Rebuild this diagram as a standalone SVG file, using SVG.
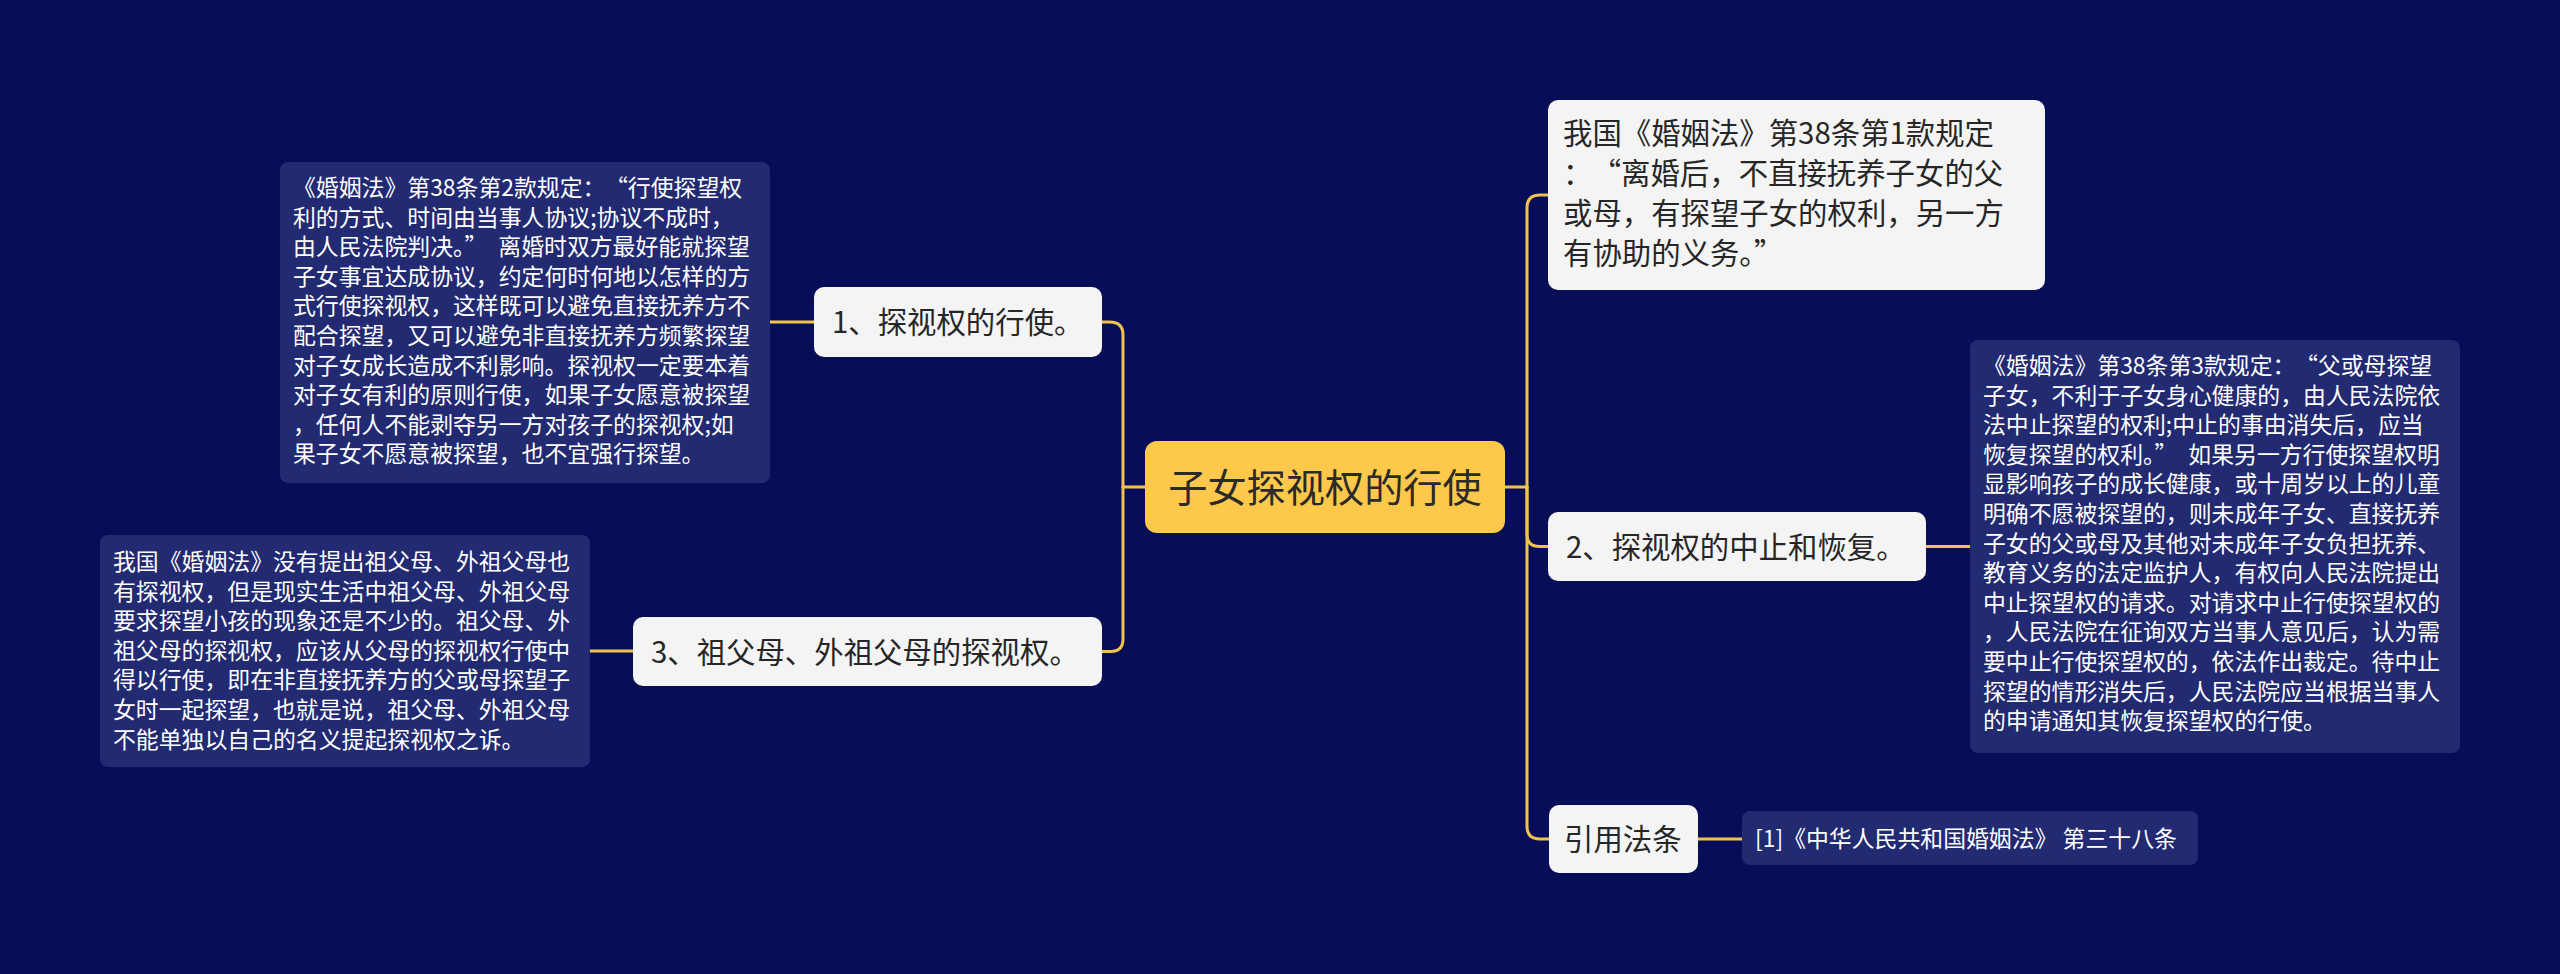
<svg xmlns="http://www.w3.org/2000/svg" width="2560" height="974" viewBox="0 0 2560 974">
<style>
.bg{fill:#070E57}
.root rect{fill:#FEC84A}
.root text{fill:#2A2A2A;font-size:39.2px;font-family:"Noto Sans CJK SC","Noto Sans",sans-serif}
.topic rect{fill:#F4F4F4}
.topic text{fill:#262626;font-size:29.4px;font-family:"Noto Sans CJK SC","Noto Sans",sans-serif}
.note rect{fill:#222A72}
.note text{fill:#FFFFFF;font-size:22.86px;font-family:"Noto Sans CJK SC","Noto Sans",sans-serif}
.links path{fill:none;stroke:#F3C24C;stroke-width:3;stroke-linecap:round}
</style>
<rect class="bg" x="0" y="0" width="2560" height="974"/>
<g class="links" id="connectors">
<path d="M1145,487 H1123"/>
<path d="M1123,487 V335 Q1123,322 1110,322 H1102"/>
<path d="M1123,487 V639 Q1123,651.5 1110.5,651.5 H1102"/>
<path d="M814,322 H770"/>
<path d="M633,651 H589"/>
<path d="M1505,487 H1527"/>
<path d="M1527,487 V208 Q1527,195 1540,195 H1548"/>
<path d="M1527,487 V534 Q1527,546.5 1539.5,546.5 H1548"/>
<path d="M1527,487 V826 Q1527,839 1540,839 H1549"/>
<path d="M1926,546.5 H1970"/>
<path d="M1698,839 H1742"/>
</g>
<g class="root" id="root">
<rect x="1145" y="441" width="360" height="92" rx="12"/>
<text x="1325" y="502" text-anchor="middle">子女探视权的行使</text>
</g>
<g class="topic" id="n1">
<rect x="814" y="287" width="288" height="70" rx="10"/>
<text x="832" y="333">1、探视权的行使。</text>
</g>
<g class="topic" id="n3">
<rect x="633" y="617" width="469" height="69" rx="10"/>
<text x="651" y="662.5">3、祖父母、外祖父母的探视权。</text>
</g>
<g class="topic" id="n0">
<rect x="1548" y="100" width="497" height="190" rx="10"/>
<text x="1563" y="144">我国《婚姻法》第38条第1款规定</text>
<text x="1563" y="184">：<tspan dx="14">“</tspan>离婚后，不直接抚养子女的父</text>
<text x="1563" y="224">或母，有探望子女的权利，另一方</text>
<text x="1563" y="264">有协助的义务。”</text>
</g>
<g class="topic" id="n2">
<rect x="1548" y="512" width="378" height="69" rx="10"/>
<text x="1566" y="557.5">2、探视权的中止和恢复。</text>
</g>
<g class="topic" id="n4">
<rect x="1549" y="805" width="149" height="68" rx="10"/>
<text x="1564" y="850">引用法条</text>
</g>
<g class="note" id="d1">
<rect x="280" y="162" width="490" height="321" rx="8"/>
<text x="293" y="196">《婚姻法》第38条第2款规定：<tspan dx="11">“</tspan>行使探望权</text>
<text x="293" y="225.6">利的方式、时间由当事人协议;协议不成时，</text>
<text x="293" y="255.2">由人民法院判决。”<tspan dx="11">离</tspan>婚时双方最好能就探望</text>
<text x="293" y="284.8">子女事宜达成协议，约定何时何地以怎样的方</text>
<text x="293" y="314.4">式行使探视权，这样既可以避免直接抚养方不</text>
<text x="293" y="344">配合探望，又可以避免非直接抚养方频繁探望</text>
<text x="293" y="373.6">对子女成长造成不利影响。探视权一定要本着</text>
<text x="293" y="403.2">对子女有利的原则行使，如果子女愿意被探望</text>
<text x="293" y="432.8">，任何人不能剥夺另一方对孩子的探视权;如</text>
<text x="293" y="462.4">果子女不愿意被探望，也不宜强行探望。</text>
</g>
<g class="note" id="d3">
<rect x="100" y="535" width="490" height="232" rx="8"/>
<text x="113" y="570">我国《婚姻法》没有提出祖父母、外祖父母也</text>
<text x="113" y="599.6">有探视权，但是现实生活中祖父母、外祖父母</text>
<text x="113" y="629.2">要求探望小孩的现象还是不少的。祖父母、外</text>
<text x="113" y="658.8">祖父母的探视权，应该从父母的探视权行使中</text>
<text x="113" y="688.4">得以行使，即在非直接抚养方的父或母探望子</text>
<text x="113" y="718">女时一起探望，也就是说，祖父母、外祖父母</text>
<text x="113" y="747.6">不能单独以自己的名义提起探视权之诉。</text>
</g>
<g class="note" id="d2">
<rect x="1970" y="340" width="490" height="413" rx="8"/>
<text x="1983" y="374">《婚姻法》第38条第3款规定：<tspan dx="11">“</tspan>父或母探望</text>
<text x="1983" y="403.6">子女，不利于子女身心健康的，由人民法院依</text>
<text x="1983" y="433.2">法中止探望的权利;中止的事由消失后，应当</text>
<text x="1983" y="462.8">恢复探望的权利。”<tspan dx="11">如</tspan>果另一方行使探望权明</text>
<text x="1983" y="492.4">显影响孩子的成长健康，或十周岁以上的儿童</text>
<text x="1983" y="522">明确不愿被探望的，则未成年子女、直接抚养</text>
<text x="1983" y="551.6">子女的父或母及其他对未成年子女负担抚养、</text>
<text x="1983" y="581.2">教育义务的法定监护人，有权向人民法院提出</text>
<text x="1983" y="610.8">中止探望权的请求。对请求中止行使探望权的</text>
<text x="1983" y="640.4">，人民法院在征询双方当事人意见后，认为需</text>
<text x="1983" y="670">要中止行使探望权的，依法作出裁定。待中止</text>
<text x="1983" y="699.6">探望的情形消失后，人民法院应当根据当事人</text>
<text x="1983" y="729.2">的申请通知其恢复探望权的行使。</text>
</g>
<g class="note" id="d4">
<rect x="1742" y="811" width="456" height="54" rx="8"/>
<text x="1755" y="847">[1]《中华人民共和国婚姻法》 第三十八条</text>
</g>
</svg>
